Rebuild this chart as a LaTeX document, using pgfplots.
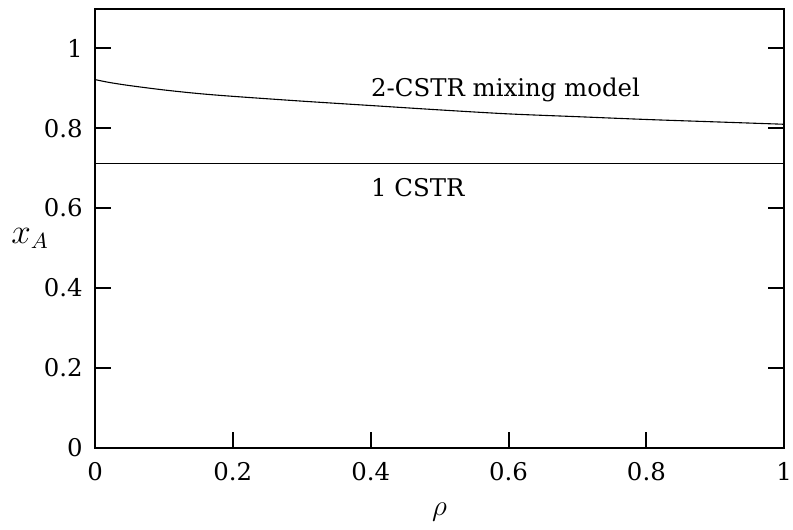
\documentclass[border=0pt]{standalone}
\usepackage{fontspec}
\setmainfont{DejaVu Serif}
\usepackage{pgfplots}
\pgfplotsset{compat=1.18}
\begin{document}
\begin{tikzpicture}
\begin{axis}[
  name=ax,
  scale only axis,
  width=282.6pt, height=180pt,
  xmin=0, xmax=1, ymin=0, ymax=1.1,
  xtick={0,0.2,0.4,0.6,0.8,1},
  ytick={0,0.2,0.4,0.6,0.8,1},
  xticklabels={0,0.2,0.4,0.6,0.8,1},
  yticklabels={0,0.2,0.4,0.6,0.8,1},
  xtick pos=bottom,
  ytick pos=both,
  tick align=inside,
  major tick length=6.5pt,
  tick style={line width=0.8pt, black},
  axis line style={line width=0.8pt},
  ticklabel style={font=\fontsize{10}{12}\selectfont},
  xticklabel style={yshift=-2.5pt},
  yticklabel style={xshift=-1.5pt},
  /pgf/number format/assume math mode=true,
  xlabel={$\rho$},
  ylabel={$x_A$},
  xlabel style={at={(axis description cs:0.5,-0.148)}, anchor=center, font=\fontsize{13}{15}\selectfont},
  ylabel style={at={(axis description cs:-0.094,0.477)}, anchor=center, rotate=-90, font=\fontsize{13.5}{15}\selectfont},
]
\addplot[black, line width=0.45pt, smooth] coordinates {
(0,0.922) (0.02,0.915) (0.05,0.907) (0.1,0.896) (0.15,0.887) (0.2,0.880)
(0.3,0.868) (0.4,0.857) (0.5,0.846) (0.6,0.836) (0.7,0.829) (0.8,0.822)
(0.9,0.816) (1.0,0.810)};
\addplot[black, line width=0.45pt] coordinates {(0,0.711) (1,0.711)};
\node[anchor=base west, inner sep=0pt, font=\fontsize{10}{12}\selectfont] at (axis cs:0.4,0.880) {2-CSTR mixing model};
\node[anchor=base west, inner sep=0pt, font=\fontsize{10}{12}\selectfont] at (axis cs:0.4,0.628) {1 CSTR};
\end{axis}
\pgfresetboundingbox
\path ([shift={(-38.96pt,-33.66pt)}]ax.south west) rectangle ([shift={(3.6pt,3.5pt)}]ax.north east);
\end{tikzpicture}
\end{document}
